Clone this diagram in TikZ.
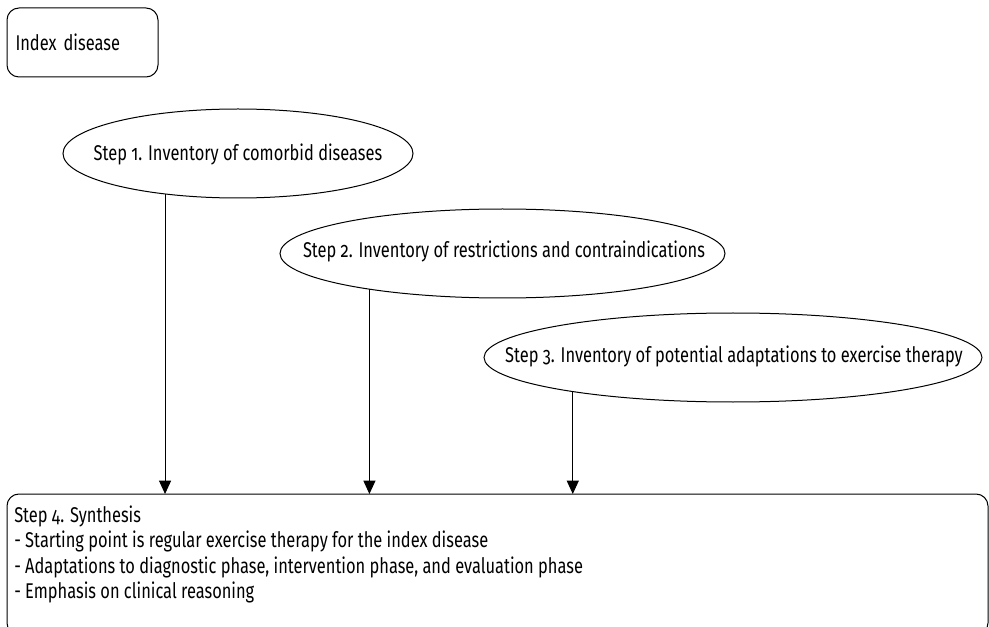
\documentclass[tikz,border=0pt]{standalone}
\usepackage{fontspec}
\setmainfont{Fira Sans}[Numbers=OldStyle, FakeStretch=0.77]
\usetikzlibrary{shapes.geometric,arrows.meta}
\begin{document}
\begin{tikzpicture}[x=0.75pt,y=-0.75pt,
  every node/.style={font=\fontsize{16}{18.8}\selectfont, text=black},
  stepell/.style={draw, ellipse, inner sep=0pt, outer sep=0pt, line width=0.75pt, minimum height=66.75pt},
  roundbox/.style={draw, rounded corners=9pt, line width=0.75pt, outer sep=0pt},
  steptext/.style={inner sep=0pt},
  flow/.style={-{Triangle[length=10pt,width=9pt]}, line width=0.75pt}]
\useasboundingbox (0,0) rectangle (989,627);
% index disease
\node[roundbox, minimum height=51.75pt, text width=100.5pt, inner xsep=6.375pt, align=left] (idx) at (82.5,42.5) {Index disease};
% ellipses
\node[stepell, minimum width=262.5pt] (e1) at (238,153.5) {};
\node[steptext] (t1) at (238,154) {Step 1. Inventory of comorbid diseases};
\node[stepell, minimum width=333.75pt] (e2) at (502.5,253.5) {};
\node[steptext] (t2) at (504,251) {Step 2. Inventory of restrictions and contraindications};
\node[stepell, minimum width=373.5pt] (e3) at (733,357.5) {};
\node[steptext] (t3) at (734,356) {Step 3. Inventory of potential adaptations to exercise therapy};
% synthesis box
\node[roundbox, minimum width=735.75pt, minimum height=105.75pt] (box) at (497.5,564.5) {};
\node[anchor=north west, align=left, inner sep=0pt] (syn) at ([xshift=5.25pt,yshift=-9pt]box.north west)
  {Step 4. Synthesis\\
   - Starting point is regular exercise therapy for the index disease\\
   - Adaptations to diagnostic phase, intervention phase, and evaluation phase\\
   - Emphasis on clinical reasoning};
% connectors
\draw[flow] (e1.209) -- (e1.209 |- box.north);
\draw[flow] (e2.195) -- (e2.195 |- box.north);
\draw[flow] (e3.192) -- (e3.192 |- box.north);
\end{tikzpicture}
\end{document}
